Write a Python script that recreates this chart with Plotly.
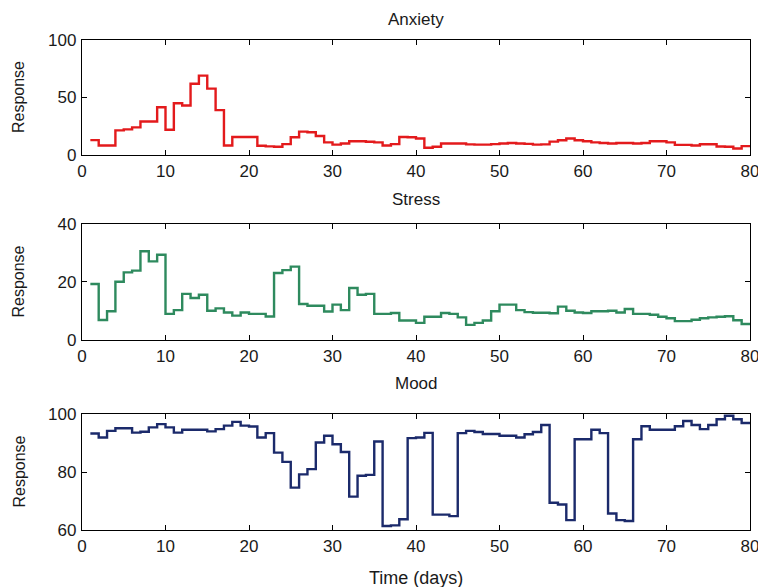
import plotly.graph_objects as go

days = list(range(1, 81))

anxiety = [12.9, 8.3, 8.3, 21.4, 22.3, 24.0, 29.1, 29.1, 41.5, 22.0,
           45.0, 43.0, 62.0, 69.0, 57.7, 39.0, 8.3, 15.7, 15.7, 15.7,
           8.0, 7.5, 7.2, 9.5, 15.5, 20.3, 19.8, 16.5, 11.0, 9.0,
           10.0, 12.0, 12.0, 11.5, 11.0, 8.3, 9.5, 15.7, 15.5, 14.3,
           6.3, 7.2, 10.0, 10.0, 10.0, 9.2, 9.0, 9.0, 9.5, 10.0,
           10.5, 10.0, 9.7, 9.0, 9.2, 11.6, 12.8, 14.3, 12.8, 12.0,
           11.0, 10.5, 10.0, 10.5, 10.5, 10.0, 10.5, 12.0, 12.0, 11.0,
           8.8, 8.8, 8.3, 9.4, 9.4, 7.4, 7.2, 5.7, 7.7, 7.7]

stress = [19.3, 6.9, 9.9, 20.1, 23.3, 23.9, 30.6, 27.1, 29.4, 9.0,
          10.3, 15.9, 14.5, 15.6, 10.1, 10.9, 9.5, 8.4, 9.5, 9.0,
          9.0, 8.1, 23.1, 24.1, 25.3, 12.4, 11.8, 11.8, 9.8, 12.2,
          10.3, 17.9, 15.6, 15.9, 9.0, 9.0, 9.3, 6.7, 6.7, 5.9,
          8.0, 8.0, 9.3, 9.0, 7.8, 5.2, 5.9, 6.7, 9.9, 12.2,
          12.2, 10.3, 9.6, 9.4, 9.4, 9.2, 11.5, 10.1, 9.5, 9.3,
          9.9, 9.9, 10.1, 9.5, 10.7, 9.0, 9.0, 8.7, 8.0, 7.5,
          6.5, 6.5, 7.0, 7.5, 7.8, 8.0, 8.2, 6.8, 5.5, 5.2]

mood = [93.3, 91.9, 94.2, 95.1, 95.1, 93.6, 93.9, 95.4, 96.5, 95.4,
        93.6, 94.6, 94.6, 94.6, 94.0, 94.8, 96.0, 97.3, 96.0, 95.7,
        91.9, 93.4, 86.7, 83.5, 74.6, 79.2, 81.0, 90.2, 92.5, 89.6,
        86.9, 71.5, 78.7, 79.0, 90.5, 61.4, 61.6, 63.7, 91.7, 91.9,
        93.5, 65.3, 65.3, 64.8, 93.4, 94.2, 93.8, 93.1, 93.1, 92.5,
        92.5, 91.9, 93.0, 93.8, 96.2, 69.4, 68.8, 63.4, 91.3, 91.3,
        94.6, 93.4, 65.7, 63.4, 63.1, 91.3, 95.8, 94.6, 94.6, 94.6,
        95.8, 97.6, 96.2, 94.8, 96.2, 98.2, 99.4, 98.2, 96.9, 96.9]

panels = [
    ("Anxiety", anxiety, "#e31a1c", [0, 100], [0, 50, 100]),
    ("Stress", stress, "#2e8a5e", [0, 40], [0, 20, 40]),
    ("Mood", mood, "#1b2a6b", [60, 100], [60, 80, 100]),
]
x_ticks = [0, 10, 20, 30, 40, 50, 60, 70, 80]

# paper-domain layout (plot area 82..750 px wide, 40..530 px tall)
domains = [[0.7653, 1.0], [0.3878, 0.6245], [0.0, 0.2367]]
title_y = [1.041, 0.6755, 0.300]

fig = go.Figure()
font = "Liberation Sans, Arial, sans-serif"
annotations = []
for i, (name, vals, color, yr, yt) in enumerate(panels):
    n = "" if i == 0 else str(i + 1)
    fig.add_trace(go.Scatter(x=days, y=vals, mode="lines",
                             line=dict(color=color, width=2.4, shape="hv"),
                             xaxis="x" + n, yaxis="y" + n, showlegend=False))
    axcommon = dict(showline=True, linecolor="black", linewidth=1.4, mirror="ticks",
                    ticks="inside", ticklen=5, tickwidth=1, tickcolor="black",
                    showgrid=False, zeroline=False, ticklabeloverflow="allow",
                    automargin=False,
                    tickfont=dict(family=font, size=17, color="#1a1a1a"))
    fig.update_layout(**{
        "xaxis" + n: dict(domain=[0, 1], range=[0, 80], tickvals=x_ticks,
                          anchor="y" + n, **axcommon),
        "yaxis" + n: dict(domain=domains[i], range=yr, tickvals=yt,
                          anchor="x" + n, ticklabelstandoff=1, **axcommon),
    })
    annotations.append(dict(text=name, x=0.5, y=title_y[i], xref="paper", yref="paper",
                            showarrow=False, xanchor="center", yanchor="middle",
                            font=dict(family=font, size=17, color="#1a1a1a")))
    mid = (domains[i][0] + domains[i][1]) / 2
    annotations.append(dict(text="Response", x=-0.095, y=mid, xref="paper", yref="paper",
                            showarrow=False, textangle=-90, xanchor="center", yanchor="middle",
                            font=dict(family=font, size=16, color="#1a1a1a")))

annotations.append(dict(text="Time (days)", x=0.5, y=-0.097, xref="paper", yref="paper",
                        showarrow=False, xanchor="center", yanchor="middle",
                        font=dict(family=font, size=18, color="#1a1a1a")))

fig.update_layout(width=758, height=587, margin=dict(l=82, r=8, t=40, b=57),
                  plot_bgcolor="white", paper_bgcolor="white",
                  annotations=annotations)

fig.write_html("out.html")
